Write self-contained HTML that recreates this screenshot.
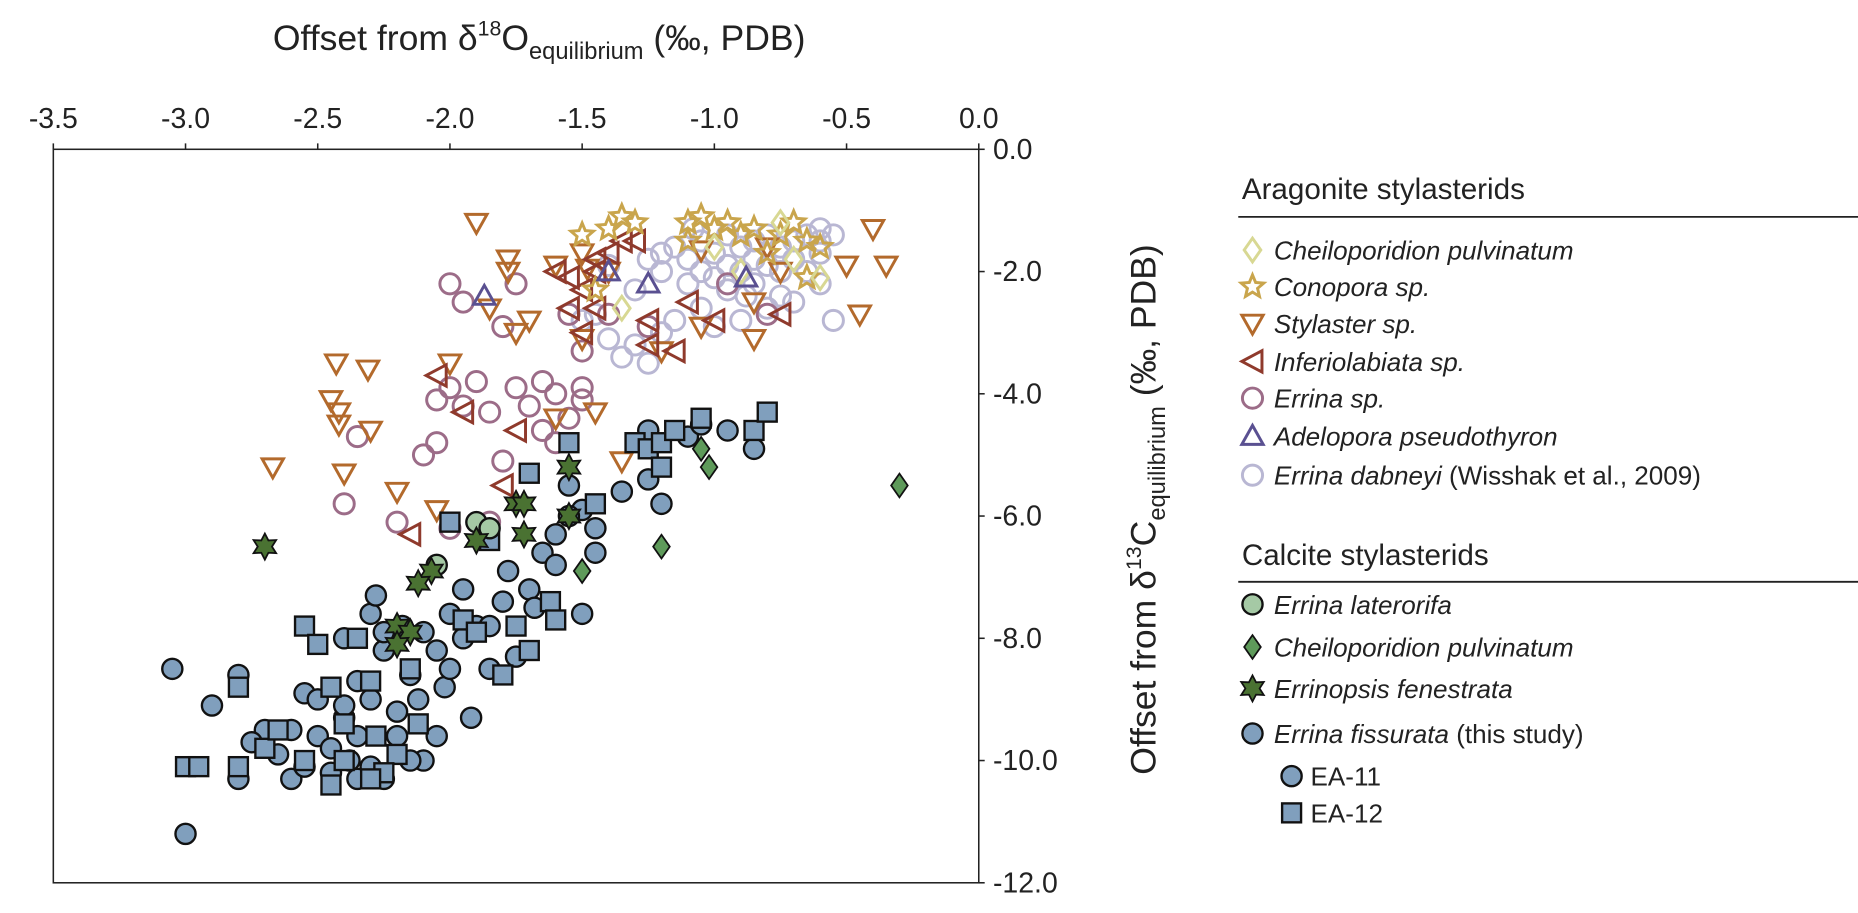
<!DOCTYPE html>
<html><head><meta charset="utf-8"><style>
body{margin:0;background:#fff;}
svg{display:block;font-family:"Liberation Sans",sans-serif;}
</style></head><body>
<svg id="chart" width="1858" height="913" viewBox="0 0 1568 770.5" xmlns="http://www.w3.org/2000/svg">
<rect x="45" y="126" width="781" height="619" fill="none" stroke="#222" stroke-width="1.3"/>
<g id="xticks"></g>
<g id="yticks"></g>
<g id="marks"></g>
<text x="455" y="42" font-size="30" text-anchor="middle" fill="#222">Offset from δ<tspan font-size="18" dy="-12">18</tspan><tspan dy="12">O</tspan><tspan font-size="20" dy="8">equilibrium</tspan><tspan dy="-8"> (‰, PDB)</tspan></text>
<text transform="translate(975,430) rotate(-90)" font-size="30" text-anchor="middle" fill="#222">Offset from δ<tspan font-size="18" dy="-12">13</tspan><tspan dy="12">C</tspan><tspan font-size="20" dy="8">equilibrium</tspan><tspan dy="-8"> (‰, PDB)</tspan></text>
<g id="legend" font-size="22" fill="#222">
<text x="1048" y="168" font-size="25">Aragonite stylasterids</text>
<line x1="1045" y1="183" x2="1580" y2="183" stroke="#222" stroke-width="1.5"/>
<text x="1048" y="477" font-size="25">Calcite stylasterids</text>
<line x1="1045" y1="491" x2="1580" y2="491" stroke="#222" stroke-width="1.5"/>
</g>
</svg>
<script>
const xTicks=[-3.5,-3.0,-2.5,-2.0,-1.5,-1.0,-0.5,0.0];
const yTicks=[0,-2,-4,-6,-8,-10,-12];
const dabneyi=[[-1.3,-2.3],[-1.25,-1.8],[-1.2,-2.0],[-1.15,-1.6],[-1.1,-1.8],[-1.05,-1.5],[-1.0,-1.7],[-0.95,-1.4],[-0.9,-1.6],[-0.85,-1.5],[-0.8,-1.4],[-0.75,-1.6],[-0.7,-1.5],[-0.65,-1.4],[-0.6,-1.3],[-0.55,-1.4],[-0.6,-1.7],[-0.7,-1.8],[-0.8,-1.9],[-0.9,-2.0],[-1.0,-2.1],[-1.1,-2.2],[-0.95,-2.3],[-0.85,-2.2],[-0.75,-2.4],[-0.8,-2.6],[-1.05,-2.6],[-1.15,-2.8],[-1.2,-3.0],[-1.3,-3.2],[-1.35,-3.4],[-1.25,-3.5],[-1.4,-3.1],[-1.45,-2.7],[-1.0,-2.9],[-0.9,-2.8],[-0.7,-2.5],[-0.6,-2.2],[-0.65,-2.0],[-0.55,-2.8],[-0.95,-1.9],[-1.05,-2.0],[-0.85,-1.8],[-0.75,-2.0],[-1.2,-1.7],[-1.4,-1.9],[-0.6,-1.5],[-1.08,-1.3],[-0.88,-2.4],[-1.5,-2.8]];
const errinaSp=[[-2.0,-2.2],[-1.95,-2.5],[-1.75,-2.2],[-1.8,-2.9],[-1.65,-3.8],[-1.75,-3.9],[-1.9,-3.8],[-2.0,-3.9],[-2.05,-4.1],[-1.95,-4.2],[-1.85,-4.3],[-1.7,-4.2],[-1.6,-4.0],[-1.5,-3.9],[-1.5,-3.3],[-1.55,-2.7],[-1.4,-2.7],[-2.35,-4.7],[-2.1,-5.0],[-2.05,-4.8],[-1.8,-5.1],[-1.65,-4.6],[-1.55,-4.4],[-2.4,-5.8],[-2.2,-6.1],[-2.0,-6.2],[-1.85,-6.1],[-1.5,-4.1],[-0.8,-2.7],[-0.95,-2.2],[-1.25,-2.9],[-1.6,-4.8]];
const stylaster=[[-1.9,-1.2],[-1.78,-1.8],[-1.78,-2.0],[-1.5,-1.7],[-1.48,-1.95],[-1.4,-2.0],[-2.43,-3.5],[-2.31,-3.6],[-2.45,-4.1],[-2.42,-4.3],[-2.42,-4.5],[-2.3,-4.6],[-2.67,-5.2],[-2.4,-5.3],[-2.2,-5.6],[-2.05,-5.9],[-1.7,-2.8],[-1.75,-3.0],[-1.5,-3.1],[-1.45,-4.3],[-1.6,-4.4],[-1.35,-5.1],[-1.05,-1.65],[-1.05,-2.9],[-0.85,-2.5],[-0.8,-1.6],[-0.75,-2.0],[-0.5,-1.9],[-0.45,-2.7],[-0.35,-1.9],[-0.4,-1.3],[-0.85,-3.1],[-1.2,-3.3],[-2.0,-3.5],[-1.85,-2.6],[-1.6,-1.9]];
const inferiolabiata=[[-1.55,-2.1],[-1.5,-2.3],[-1.45,-1.8],[-1.4,-1.7],[-1.35,-1.5],[-1.3,-1.5],[-1.55,-2.6],[-1.5,-3.0],[-1.45,-2.6],[-2.05,-3.7],[-1.95,-4.3],[-1.75,-4.6],[-1.8,-5.5],[-2.15,-6.3],[-1.25,-2.8],[-1.25,-3.2],[-1.15,-3.3],[-1.0,-2.8],[-1.1,-2.5],[-0.75,-2.7],[-1.6,-2.0],[-1.45,-2.0]];
const conopora=[[-1.5,-1.4],[-1.35,-1.1],[-1.3,-1.2],[-1.1,-1.2],[-1.05,-1.1],[-1.0,-1.3],[-0.95,-1.2],[-0.9,-1.4],[-0.85,-1.3],[-0.75,-1.4],[-0.7,-1.2],[-0.65,-1.5],[-0.6,-1.6],[-1.45,-2.3],[-1.1,-1.5],[-0.8,-1.7],[-0.65,-2.1],[-1.4,-1.3]];
const cheiloArag=[[-1.35,-2.6],[-0.75,-1.2],[-0.7,-1.8],[-0.9,-2.0],[-1.0,-1.6],[-0.6,-2.1]];
const adelopora=[[-1.87,-2.4],[-1.4,-2.0],[-1.25,-2.2],[-0.88,-2.1]];
const laterorifa=[[-1.9,-6.1],[-1.85,-6.2],[-2.05,-6.8]];
const cheiloCalc=[[-0.3,-5.5],[-1.05,-4.9],[-1.02,-5.2],[-1.2,-6.5],[-1.5,-6.9]];
const errinopsis=[[-2.7,-6.5],[-2.07,-6.9],[-1.9,-6.4],[-1.75,-5.8],[-1.72,-5.8],[-1.72,-6.3],[-1.55,-5.2],[-1.55,-6.0],[-2.2,-7.8],[-2.15,-7.9],[-2.2,-8.1],[-2.12,-7.1]];
const ea11=[[-3.05,-8.5],[-3.0,-11.2],[-2.8,-8.6],[-2.7,-9.5],[-2.65,-9.9],[-2.6,-10.3],[-2.55,-8.9],[-2.5,-9.6],[-2.45,-10.2],[-2.4,-9.3],[-2.38,-10.0],[-2.35,-8.7],[-2.3,-9.0],[-2.3,-7.6],[-2.28,-7.3],[-2.25,-8.2],[-2.2,-9.6],[-2.18,-7.8],[-2.15,-8.6],[-2.12,-9.0],[-2.1,-10.0],[-2.05,-8.2],[-2.02,-8.8],[-2.0,-7.6],[-1.95,-8.0],[-1.92,-9.3],[-1.9,-7.8],[-1.85,-8.5],[-1.8,-7.4],[-1.78,-6.9],[-1.75,-8.3],[-1.7,-7.2],[-1.68,-7.5],[-1.65,-6.6],[-1.6,-6.8],[-1.55,-5.5],[-1.5,-5.9],[-1.5,-7.6],[-1.45,-6.6],[-1.45,-6.2],[-1.35,-5.6],[-1.25,-4.6],[-1.25,-5.4],[-1.2,-5.8],[-1.1,-4.7],[-1.05,-4.5],[-0.95,-4.6],[-0.85,-4.9],[-2.6,-9.5],[-2.5,-9.0],[-2.45,-9.8],[-2.25,-10.3],[-2.4,-8.0],[-2.3,-10.1],[-2.2,-9.2],[-2.15,-10.0],[-2.05,-9.6],[-2.0,-8.5],[-1.95,-7.2],[-2.1,-7.9],[-2.25,-7.9],[-2.35,-9.6],[-2.55,-10.1],[-2.75,-9.7],[-2.8,-10.3],[-2.35,-10.3],[-2.4,-9.1],[-1.85,-7.8],[-1.6,-6.3],[-1.55,-6.0],[-2.9,-9.1]];
const ea12=[[-3.0,-10.1],[-2.95,-10.1],[-2.8,-8.8],[-2.8,-10.1],[-2.7,-9.8],[-2.55,-7.8],[-2.5,-8.1],[-2.45,-8.8],[-2.4,-9.4],[-2.3,-8.7],[-2.28,-9.6],[-2.2,-9.9],[-2.15,-8.5],[-2.12,-9.4],[-2.0,-6.1],[-1.95,-7.7],[-1.9,-7.9],[-1.8,-8.6],[-1.75,-7.8],[-1.7,-8.2],[-1.62,-7.4],[-1.6,-7.7],[-1.55,-4.8],[-1.45,-5.8],[-1.3,-4.8],[-1.25,-4.9],[-1.2,-4.8],[-1.2,-5.2],[-1.15,-4.6],[-1.05,-4.4],[-0.85,-4.6],[-0.8,-4.3],[-1.85,-6.4],[-2.35,-8.0],[-2.55,-10.0],[-2.4,-10.0],[-2.65,-9.5],[-2.25,-10.2],[-2.45,-10.4],[-2.3,-10.3],[-1.7,-5.3]];

const NS='http://www.w3.org/2000/svg';
const X0=45,X1=826,Y0=126,Y1=745;
function sx(v){return X0+(v+3.5)/3.5*(X1-X0);}
function sy(v){return Y0+(-v)/12*(Y1-Y0);}
function el(tag,attrs,parent){const e=document.createElementNS(NS,tag);for(const k in attrs)e.setAttribute(k,attrs[k]);parent.appendChild(e);return e;}
const xg=document.getElementById('xticks'),yg=document.getElementById('yticks'),mg=document.getElementById('marks'),lg=document.getElementById('legend');
xTicks.forEach(t=>{const x=sx(t);
 const l=el('line',{x1:x,y1:Y0,x2:x,y2:Y0-5,stroke:'#222','stroke-width':1.3},xg);
 
 
 const tx=el('text',{x:x,y:108,'font-size':24,'text-anchor':'middle',fill:'#222'},xg);tx.textContent=t.toFixed(1);
 
 
});
yTicks.forEach(t=>{const y=sy(t);
 const l=el('line',{x1:X1,y1:y,x2:X1+5,y2:y,stroke:'#222','stroke-width':1.3},yg);
 
 
 const tx=el('text',{x:838,y:y+8,'font-size':24,fill:'#222'},yg);tx.textContent=t.toFixed(1);
 
 
});
function shape(kind,x,y,fill,stroke,sw,parent){
 let e;
 if(kind==='circle')e=el('circle',{cx:x,cy:y,r:8.5},parent);
 else if(kind==='square')e=el('rect',{x:x-8,y:y-8,width:16,height:16},parent);
 else {let pts;
  if(kind==='down')pts=[[-9,-7],[9,-7],[0,9]];
  else if(kind==='up')pts=[[-9,7],[9,7],[0,-9]];
  else if(kind==='left')pts=[[8,-9],[8,9],[-9,0]];
  else if(kind==='diamond')pts=[[0,-10],[7,0],[0,10],[-7,0]];
  else if(kind==='star5'){pts=[];for(let i=0;i<10;i++){const r=i%2?4.5:10,a=-Math.PI/2+i*Math.PI/5;pts.push([r*Math.cos(a),r*Math.sin(a)]);}}
  else if(kind==='star6'){pts=[];for(let i=0;i<12;i++){const r=i%2?6:11,a=-Math.PI/2+i*Math.PI/6;pts.push([r*Math.cos(a),r*Math.sin(a)]);}}
  e=el('polygon',{points:pts.map(p=>(x+p[0])+','+(y+p[1])).join(' ')},parent);}
 e.setAttribute('fill',fill);e.setAttribute('stroke',stroke);e.setAttribute('stroke-width',sw);
 return e;
}
const series=[
 {d:dabneyi,k:'circle',f:'none',s:'#b9b7d3',w:2.5,n:'errina-dabneyi'},
 {d:errinaSp,k:'circle',f:'none',s:'#9c6c88',w:2.5,n:'errina-sp'},
 {d:stylaster,k:'down',f:'none',s:'#b36a2c',w:2.5,n:'stylaster-sp'},
 {d:inferiolabiata,k:'left',f:'none',s:'#8f3a2c',w:2.5,n:'inferiolabiata-sp'},
 {d:conopora,k:'star5',f:'none',s:'#c9a54c',w:2.5,n:'conopora-sp'},
 {d:cheiloArag,k:'diamond',f:'none',s:'#d8d893',w:2.5,n:'cheiloporidion-aragonite'},
 {d:adelopora,k:'up',f:'none',s:'#5a5091',w:2.5,n:'adelopora-pseudothyron'},
 {d:ea11,k:'circle',f:'#809fbd',s:'#111',w:2,n:'ea11-point'},
 {d:ea12,k:'square',f:'#809fbd',s:'#111',w:2,n:'ea12-point'},
 {d:laterorifa,k:'circle',f:'#a5c9a5',s:'#111',w:2,n:'errina-laterorifa'},
 {d:cheiloCalc,k:'diamond',f:'#5e9a5a',s:'#111',w:1.5,n:'cheiloporidion-calcite'},
 {d:errinopsis,k:'star6',f:'#4a7232',s:'#111',w:1.5,n:'errinopsis-fenestrata'}
];
series.forEach(S=>{const g=el('g',{},mg);
 
 
 S.d.forEach(p=>{const m=shape(S.k,sx(p[0]),sy(p[1]),S.f,S.s,S.w,g);
  
  
 });
});
const legendItems=[
 ['diamond','none','#d8d893',2.5,1057,211,1075,'<tspan font-style="italic">Cheiloporidion pulvinatum</tspan>','legend-cheiloporidion-aragonite'],
 ['star5','none','#c9a54c',2.5,1057,242,1075,'<tspan font-style="italic">Conopora sp.</tspan>','legend-conopora'],
 ['down','none','#b36a2c',2.5,1057,273,1075,'<tspan font-style="italic">Stylaster sp.</tspan>','legend-stylaster'],
 ['left','none','#8f3a2c',2.5,1057,305,1075,'<tspan font-style="italic">Inferiolabiata sp.</tspan>','legend-inferiolabiata'],
 ['circle','none','#9c6c88',2.5,1057,336,1075,'<tspan font-style="italic">Errina sp.</tspan>','legend-errina-sp'],
 ['up','none','#5a5091',2.5,1057,368,1075,'<tspan font-style="italic">Adelopora pseudothyron</tspan>','legend-adelopora'],
 ['circle','none','#b9b7d3',2.5,1057,401,1075,'<tspan font-style="italic">Errina dabneyi</tspan> (Wisshak et al., 2009)','legend-errina-dabneyi'],
 ['circle','#a5c9a5','#111',2,1057,510,1075,'<tspan font-style="italic">Errina laterorifa</tspan>','legend-errina-laterorifa'],
 ['diamond','#5e9a5a','#111',1.5,1057,546,1075,'<tspan font-style="italic">Cheiloporidion pulvinatum</tspan>','legend-cheiloporidion-calcite'],
 ['star6','#4a7232','#111',1.5,1057,581,1075,'<tspan font-style="italic">Errinopsis fenestrata</tspan>','legend-errinopsis'],
 ['circle','#809fbd','#111',2,1057,619,1075,'<tspan font-style="italic">Errina fissurata</tspan> (this study)','legend-errina-fissurata'],
 ['circle','#809fbd','#111',2,1090,655,1106,'EA-11','legend-ea11'],
 ['square','#809fbd','#111',2,1090,686,1106,'EA-12','legend-ea12']
];
legendItems.forEach(it=>{const g=el('g',{},lg);
 
 
 shape(it[0],it[4],it[5],it[1],it[2],it[3],g);
 const t=el('text',{x:it[6],y:it[5]+8,'font-size':22,fill:'#222'},g);t.innerHTML=it[7];
});
</script>
</body></html>
